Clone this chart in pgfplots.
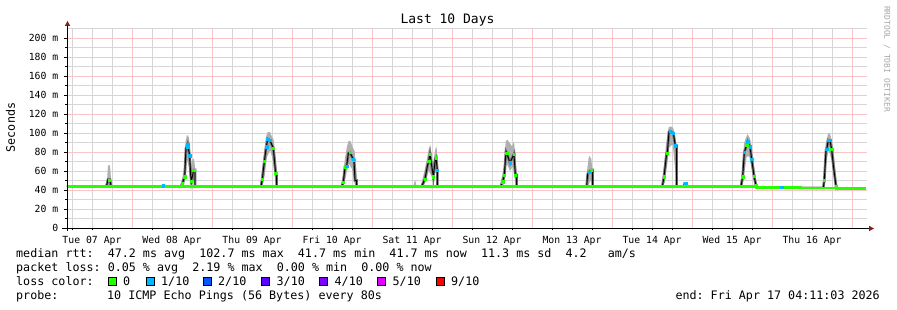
\documentclass[border=0pt]{standalone}
\usepackage{pgfplots}
\pgfplotsset{compat=1.18}
\usepackage{fontspec}
\setmainfont{DejaVu Sans Mono}
\definecolor{lzero}{HTML}{26FF00}
\definecolor{lone}{HTML}{00B8FF}
\definecolor{ltwo}{HTML}{0059FF}
\definecolor{lthree}{HTML}{5E00FF}
\definecolor{lfour}{HTML}{7E00FF}
\definecolor{lfive}{HTML}{DD00FF}
\definecolor{lnine}{HTML}{FF0000}
\definecolor{gridred}{HTML}{F8C6C6}
\definecolor{gridgray}{HTML}{D6D6D6}
\definecolor{arrowred}{HTML}{8B1A1A}
\definecolor{smoke}{HTML}{B0B0B0}
\tikzset{vred/.style={draw=gridred, line width=1pt, xshift=0.5pt},
         hred/.style={draw=gridred, line width=1pt, yshift=-0.5pt},
         vgray/.style={draw=gridgray, line width=1pt, xshift=0.5pt},
         hgray/.style={draw=gridgray, line width=1pt, yshift=-0.5pt}}
\begin{document}
\frenchspacing
\begin{tikzpicture}
\useasboundingbox (-67pt,-82pt) rectangle (830pt,228pt);
\begin{axis}[
  at={(0pt,0pt)}, anchor=south west,
  scale only axis, width=800pt, height=199.5pt,
  xmin=4.5, xmax=244.5, ymin=0, ymax=210,
  axis line style={draw=none},
  xtick={12,36,...,228},
  xticklabels={Tue 07 Apr,Wed 08 Apr,Thu 09 Apr,Fri 10 Apr,Sat 11 Apr,Sun 12 Apr,Mon 13 Apr,Tue 14 Apr,Wed 15 Apr,Thu 16 Apr},
  minor xtick={6,18,30,42,54,66,78,90,102,114,126,138,150,162,174,186,198,210,222,234},
  ytick={0,20,...,200},
  yticklabels={0,20 m,40 m,60 m,80 m,100 m,120 m,140 m,160 m,180 m,200 m},
  minor ytick={10,30,...,190},
  xtick pos=left, ytick pos=left,
  tick align=outside, major tick length=2.5pt, minor tick length=2pt,
  tick style={black, line width=0.6pt},
  xticklabel style={font=\fontsize{9.8}{10}\selectfont, anchor=base, inner sep=0pt, yshift=-13.5pt},
  yticklabel style={font=\fontsize{9.8}{10}\selectfont, anchor=east, inner sep=0pt, xshift=-6pt},
  clip=false,
]
% grid (drawn first, under the data)
\pgfplotsinvokeforeach{6,12,18,30,36,42,54,60,66,78,84,90,102,108,114,126,132,138,150,156,162,174,180,186,198,204,210,222,228,234}{
  \draw[vgray] (axis cs:#1,0) -- (axis cs:#1,210);}
\pgfplotsinvokeforeach{10,30,50,70,90,110,130,150,170,190,210}{
  \draw[hgray] (axis cs:4.5,#1) -- (axis cs:244.5,#1);}
\pgfplotsinvokeforeach{24,48,72,96,120,144,168,192,216,240}{
  \draw[vred] (axis cs:#1,0) -- (axis cs:#1,210);}
\pgfplotsinvokeforeach{20,40,60,80,100,120,140,160,180,200}{
  \draw[hred] (axis cs:4.5,#1) -- (axis cs:244.5,#1);}
% smoke
\addplot[fill=smoke, draw=none] coordinates {(16.0,44)(16.5,49)(16.8,66)(17.4,66)(17.7,52)(18.0,44)};
\addplot[fill=smoke, draw=none] coordinates {(38.5,44)(39.1,53)(39.7,64)(40.0,90)(40.5,98)(41.0,96)(41.4,86)(41.7,72)(41.9,62)(42.1,72)(42.6,73)(43.0,62)(43.2,44)(42.5,50)(42.0,44)(41.5,50)(41.0,65)(40.5,72)(40.0,50)(39.4,44)};
\addplot[fill=smoke, draw=none] coordinates {(62.4,44)(63.0,61)(63.6,80)(64.2,96)(64.7,101)(65.4,101)(66.0,96)(66.5,93)(67.2,72)(67.6,52)(67.8,44)(67.0,48)(66.3,70)(65.5,82)(64.5,75)(63.8,55)(63.2,44)};
\addplot[fill=smoke, draw=none] coordinates {(86.6,44)(87.3,56)(87.9,74)(88.5,86)(89.0,92)(89.6,91)(90.2,85)(90.8,81)(91.3,62)(91.7,44)(90.8,46)(90.0,62)(89.0,68)(88.2,55)(87.5,44)};
\addplot[fill=smoke, draw=none] coordinates {(108.4,44)(108.9,51)(109.4,44)};
\addplot[fill=smoke, draw=none] coordinates {(110.6,44)(111.8,61)(112.5,73)(113.0,83)(113.5,88)(114.0,72)(114.4,69)(115.0,83)(115.3,86)(115.8,71)(116.0,44)(115.0,60)(114.5,48)(113.8,55)(113.0,60)(112.2,50)(111.5,44)};
\addplot[fill=smoke, draw=none] coordinates {(134.3,44)(135.1,56)(135.6,66)(136.1,91)(136.6,93)(137.4,89)(138.0,86)(138.6,91)(139.1,72)(139.6,52)(139.8,44)(139.0,48)(138.3,65)(137.4,60)(136.4,68)(135.8,48)(135.2,44)};
\addplot[fill=smoke, draw=none] coordinates {(160.1,44)(160.6,63)(161.1,76)(161.8,73)(162.3,54)(162.6,44)(161.5,50)(160.8,44)};
\addplot[fill=smoke, draw=none] coordinates {(182.8,44)(183.5,63)(184.3,91)(185.0,106)(185.6,107)(186.4,105)(187.0,96)(187.5,62)(187.8,44)(187.0,60)(186.2,88)(185.2,85)(184.5,65)(183.8,48)(183.3,44)};
\addplot[fill=smoke, draw=none] coordinates {(206.4,44)(207.1,61)(207.6,89)(208.3,96)(208.7,99)(209.4,94)(209.9,86)(210.7,64)(211.3,49)(211.6,43)(210.8,44)(210.0,60)(209.2,75)(208.4,75)(207.8,60)(207.2,44)};
\addplot[fill=smoke, draw=none] coordinates {(231.1,42)(231.6,61)(232.1,89)(232.9,100)(233.4,99)(233.9,93)(234.5,81)(235.3,52)(235.8,42)(234.8,48)(234.0,70)(233.0,82)(232.3,70)(231.8,45)};
% median (dark core + black line)
\addplot[black!55, line width=2.6pt] coordinates {
(4.5,43.8)(16.2,43.8)(16.5,46)(16.8,51)(17.4,51)(17.7,43.8)
(38.7,43.8)(39.1,47)(39.8,54)(40.2,84)(40.5,85.6)(40.7,88)(41.3,76)(41.6,56)(41.8,49)(42.5,61)(42.9,61)(42.9,43.8)
(62.7,43.8)(63.1,51.6)(63.7,70)(64.3,85.6)(64.7,93.7)(65.4,92)(66.4,84)(67.1,57.5)(67.4,57.5)(67.4,43.8)
(86.9,43.8)(87.4,48)(87.9,64.5)(88.4,65)(88.9,78.6)(89.4,79.6)(90.4,72)(90.6,71.6)(90.9,50)(91.4,50)(91.4,43.8)
(110.9,43.8)(111.9,51.6)(112.6,65)(113.0,70.5)(113.4,77.6)(114.4,54)(115.0,73)(115.2,74)(115.6,61)(115.6,43.8)
(134.6,43.8)(135.2,48.8)(135.7,55.8)(136.2,80.4)(136.4,79)(137.4,68.7)(138.6,78)(139.0,55.8)(139.4,55.8)(139.4,43.8)
(160.4,43.8)(160.7,56.5)(161.1,59)(161.8,61)(162.2,61)(162.2,43.8)
(183.1,43.8)(183.6,54)(184.4,78.6)(184.6,79)(185.1,101)(185.4,102)(186.4,99.6)(187.0,86.6)(187.4,86.6)(187.4,43.8)
(189.6,43.8)(189.8,47)(190.4,47)(190.5,43.8)
(206.7,43.8)(207.2,54)(207.7,79.6)(208.4,87.4)(208.7,90.9)(209.4,85.6)(209.9,72.6)(210.6,54.7)(211.2,45)(211.4,42.8)
(224.4,42.8)(224.4,42.2)
(231.4,42.2)(231.7,50.5)(232.2,82)(232.4,82.8)(232.9,92.6)(233.4,92)(233.9,82.8)(234.4,66)(235.2,44)(235.4,41.7)
(244.1,41.7)};
\addplot[black, line width=0.9pt] coordinates {
(4.5,43.8)(16.2,43.8)(16.5,46)(16.8,51)(17.4,51)(17.7,43.8)
(38.7,43.8)(39.1,47)(39.8,54)(40.2,84)(40.5,85.6)(40.7,88)(41.3,76)(41.6,56)(41.8,49)(42.5,61)(42.9,61)(42.9,43.8)
(62.7,43.8)(63.1,51.6)(63.7,70)(64.3,85.6)(64.7,93.7)(65.4,92)(66.4,84)(67.1,57.5)(67.4,57.5)(67.4,43.8)
(86.9,43.8)(87.4,48)(87.9,64.5)(88.4,65)(88.9,78.6)(89.4,79.6)(90.4,72)(90.6,71.6)(90.9,50)(91.4,50)(91.4,43.8)
(110.9,43.8)(111.9,51.6)(112.6,65)(113.0,70.5)(113.4,77.6)(114.4,54)(115.0,73)(115.2,74)(115.6,61)(115.6,43.8)
(134.6,43.8)(135.2,48.8)(135.7,55.8)(136.2,80.4)(136.4,79)(137.4,68.7)(138.6,78)(139.0,55.8)(139.4,55.8)(139.4,43.8)
(160.4,43.8)(160.7,56.5)(161.1,59)(161.8,61)(162.2,61)(162.2,43.8)
(183.1,43.8)(183.6,54)(184.4,78.6)(184.6,79)(185.1,101)(185.4,102)(186.4,99.6)(187.0,86.6)(187.4,86.6)(187.4,43.8)
(189.6,43.8)(189.8,47)(190.4,47)(190.5,43.8)
(206.7,43.8)(207.2,54)(207.7,79.6)(208.4,87.4)(208.7,90.9)(209.4,85.6)(209.9,72.6)(210.6,54.7)(211.2,45)(211.4,42.8)
(224.4,42.8)(224.4,42.2)
(231.4,42.2)(231.7,50.5)(232.2,82)(232.4,82.8)(232.9,92.6)(233.4,92)(233.9,82.8)(234.4,66)(235.2,44)(235.4,41.7)
(244.1,41.7)};
% loss-colored baseline (0 loss)
\addplot[lzero, line width=2.7pt] coordinates {(4.5,43.8)(211.4,43.8)(211.4,42.8)(224.4,42.8)(224.4,42.2)(235.4,42.2)(235.4,41.7)(244.1,41.7)};
% loss-colored median samples
\addplot[only marks, mark=square*, mark size=1.1pt, color=lzero] coordinates {
(17.2,50.5)(39.1,47)(39.8,54)(41.8,49)(42.5,61)
(63.1,51.6)(63.7,70)(66.4,84)(67.1,57.5)
(87.4,48)(87.9,64.5)(89.4,79.6)(90.6,71.6)
(111.9,51.6)(113.0,70.5)(113.4,77.6)(114.4,54)(115.2,74)
(135.2,48.8)(135.7,55.8)(136.4,79)(138.6,78)(139.0,55.8)
(161.8,61)(183.6,54)(184.6,79)
(207.2,54)(208.4,87.4)(210.6,54.7)(211.2,45)
(231.7,50.5)(233.9,82.8)(235.2,44)};
\addplot[only marks, mark=square*, mark size=1.1pt, color=lone] coordinates {
(33.3,44.5)(40.5,85.6)(40.7,88)(41.3,76)
(64.4,85.6)(64.7,93.7)(65.4,92)
(88.4,65)(90.4,72)(115.6,61)(137.4,68.7)(161.1,59)
(185.4,102)(186.4,99.6)(187.0,86.6)(190.1,47)
(207.7,79.6)(208.7,90.9)(209.4,85.6)(209.9,72.6)(218.9,42.8)
(232.4,82.8)(232.9,92.6)(233.4,92)};
\end{axis}
% axis lines with arrows
\draw[black, line width=1pt] (-5pt,-0.5pt) -- (803pt,-0.5pt);
\fill[arrowred] (807pt,-0.5pt) -- (802pt,2.2pt) -- (802pt,-3.2pt) -- cycle;
\draw[black, line width=1pt] (0.5pt,-3pt) -- (0.5pt,203pt);
\fill[arrowred] (0.5pt,207pt) -- (-2.2pt,202pt) -- (3.2pt,202pt) -- cycle;
% title and labels
\node[font=\fontsize{13}{14}\selectfont, anchor=base] at (380.5pt,204pt) {Last 10 Days};
\node[font=\fontsize{11.7}{12}\selectfont, rotate=90, anchor=base] at (-52pt,100.5pt) {Seconds};
\node[font=\fontsize{8}{8}\selectfont, text=black!35, rotate=-90] at (820pt,169pt) {RRDTOOL / TOBI OETIKER};
% legend
\begin{scope}[every node/.style={font=\fontsize{11.7}{12}\selectfont, anchor=base west, inner sep=0pt}]
\node at (-51pt,-29.5pt) {median~rtt:~~47.2~ms~avg~~102.7~ms~max~~41.7~ms~min~~41.7~ms~now~~11.3~ms~sd~~4.2~~~am/s};
\node at (-51pt,-43.5pt) {packet~loss:~0.05~\%~avg~~2.19~\%~max~~0.00~\%~min~~0.00~\%~now};
\node at (-51pt,-57.5pt) {loss~color:};
\node at (-51pt,-72pt) {probe:};
\node at (40pt,-72pt) {10~ICMP~Echo~Pings~(56~Bytes)~every~80s};
\node[anchor=base east] at (813pt,-72pt) {end:~Fri~Apr~17~04:11:03~2026};
\node at (56pt,-57.5pt) {0};
\node at (94pt,-57.5pt) {1/10};
\node at (151pt,-57.5pt) {2/10};
\node at (209.5pt,-57.5pt) {3/10};
\node at (267.5pt,-57.5pt) {4/10};
\node at (325.5pt,-57.5pt) {5/10};
\node at (384pt,-57.5pt) {9/10};
\end{scope}
\filldraw[fill=lzero, draw=black, line width=0.8pt] (41pt,-49.5pt) rectangle (49pt,-57.5pt);
\filldraw[fill=lone, draw=black, line width=0.8pt] (79pt,-49.5pt) rectangle (87pt,-57.5pt);
\filldraw[fill=ltwo, draw=black, line width=0.8pt] (136pt,-49.5pt) rectangle (144pt,-57.5pt);
\filldraw[fill=lthree, draw=black, line width=0.8pt] (194.5pt,-49.5pt) rectangle (202.5pt,-57.5pt);
\filldraw[fill=lfour, draw=black, line width=0.8pt] (252.5pt,-49.5pt) rectangle (260.5pt,-57.5pt);
\filldraw[fill=lfive, draw=black, line width=0.8pt] (310.5pt,-49.5pt) rectangle (318.5pt,-57.5pt);
\filldraw[fill=lnine, draw=black, line width=0.8pt] (369pt,-49.5pt) rectangle (377pt,-57.5pt);
\end{tikzpicture}
\end{document}
